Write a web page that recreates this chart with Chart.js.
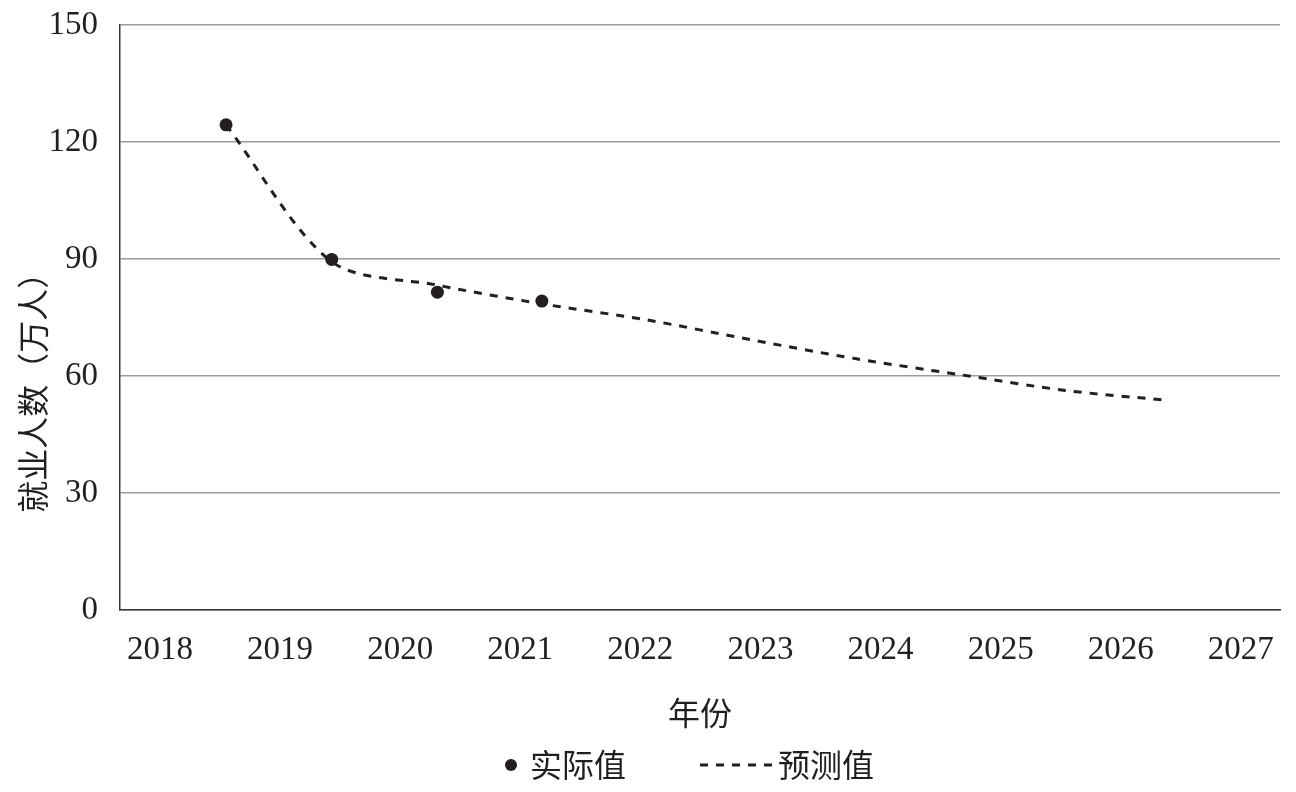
<!DOCTYPE html>
<html>
<head>
<meta charset="utf-8">
<script src="https://cdn.jsdelivr.net/npm/chart.js@4"></script>
<style>
  html, body { margin: 0; padding: 0; background: #fff; }
</style>
</head>
<body>
<canvas id="jobChart" width="1296" height="792"></canvas>
<script>
// Data
const yearTicks = [2018, 2019, 2020, 2021, 2022, 2023, 2024, 2025, 2026, 2027];
const actualX = [2018.55, 2019.43, 2020.31, 2021.18];
const actualY = [124.4, 89.9, 81.5, 79.2];
const forecastX = [2018.55, 2019.43, 2020.31, 2021.18, 2022.05, 2022.92, 2023.8, 2024.67, 2025.54, 2026.37];
const forecastY = [124.4, 89.3, 83.3, 78.5, 74.4, 69.3, 64.4, 60.3, 56.3, 53.8];
const yTicks = [0, 30, 60, 90, 120, 150];
const seriesNames = ["实际值", "预测值"];
const xTitle = "年份";
const yTitle = "就业人数（万人）";

const ink = "#231f20";
const numFont = { family: '"Liberation Serif", "Times New Roman", serif', size: 33 };
const cjkFont = '"Noto Sans CJK SC", "Liberation Serif", sans-serif';

// y title (offset lower than the axis centre) and the legend
const extras = {
  id: "extras",
  afterDraw(chart) {
    const { ctx, chartArea } = chart;
    ctx.save();
    ctx.fillStyle = ink;
    ctx.font = "32px " + cjkFont;
    ctx.textAlign = "center";
    ctx.textBaseline = "middle";
    ctx.translate(33, chartArea.top + (chartArea.bottom - chartArea.top) * 0.615);
    ctx.rotate(-Math.PI / 2);
    ctx.fillText(yTitle, 0, 0);
    ctx.restore();

    const cx = (chartArea.left + chartArea.right) / 2;
    const ly = chart.height - 27;
    ctx.save();
    ctx.fillStyle = ink;
    ctx.strokeStyle = ink;
    ctx.font = "32px " + cjkFont;
    ctx.textBaseline = "middle";
    ctx.textAlign = "left";
    ctx.beginPath();
    ctx.arc(cx - 189, ly, 6, 0, Math.PI * 2);
    ctx.fill();
    ctx.fillText(seriesNames[0], cx - 170, ly);
    ctx.lineWidth = 3;
    ctx.setLineDash([8, 8]);
    ctx.beginPath();
    ctx.moveTo(cx, ly);
    ctx.lineTo(cx + 72, ly);
    ctx.stroke();
    ctx.fillText(seriesNames[1], cx + 78, ly);
    ctx.restore();
  }
};

const ctx = document.getElementById("jobChart").getContext("2d");
new Chart(ctx, {
  type: "line",
  data: {
    datasets: [
      {
        label: seriesNames[0],
        data: actualX.map((x, i) => ({ x: x, y: actualY[i] })),
        showLine: false,
        pointRadius: 6.5,
        pointBackgroundColor: ink,
        pointBorderWidth: 0,
        order: 0
      },
      {
        label: seriesNames[1],
        data: forecastX.map((x, i) => ({ x: x, y: forecastY[i] })),
        borderColor: ink,
        borderWidth: 3,
        borderDash: [8, 8],
        tension: 0.3,
        pointRadius: 0,
        fill: false,
        order: 1
      }
    ]
  },
  options: {
    responsive: false,
    animation: false,
    layout: { padding: { top: 25, right: 16, bottom: 60, left: 0 } },
    plugins: {
      legend: { display: false },
      tooltip: { enabled: false }
    },
    scales: {
      x: {
        type: "linear",
        min: 2017.667,
        max: 2027.326,
        afterBuildTicks: s => { s.ticks = yearTicks.map(v => ({ value: v })); },
        grid: { display: false, drawTicks: false },
        border: { display: true, color: "#3a3a3a", width: 1.5 },
        ticks: {
          padding: 21,
          font: numFont,
          color: ink,
          maxRotation: 0,
          autoSkip: false,
          callback: v => String(v)
        },
        title: {
          display: true,
          text: xTitle,
          color: ink,
          font: { family: cjkFont, size: 32 },
          padding: { top: 2, bottom: 0 }
        }
      },
      y: {
        min: 0,
        max: 150,
        afterBuildTicks: s => { s.ticks = yTicks.map(v => ({ value: v })); },
        afterFit: s => { s.width = 120; s.paddingTop = 0; },
        grid: { color: "#9b9b9b", lineWidth: 1.5, drawTicks: false },
        border: { display: true, color: "#3a3a3a", width: 1.5 },
        ticks: { padding: 22, font: numFont, color: ink }
      }
    }
  },
  plugins: [extras]
});
</script>
</body>
</html>
